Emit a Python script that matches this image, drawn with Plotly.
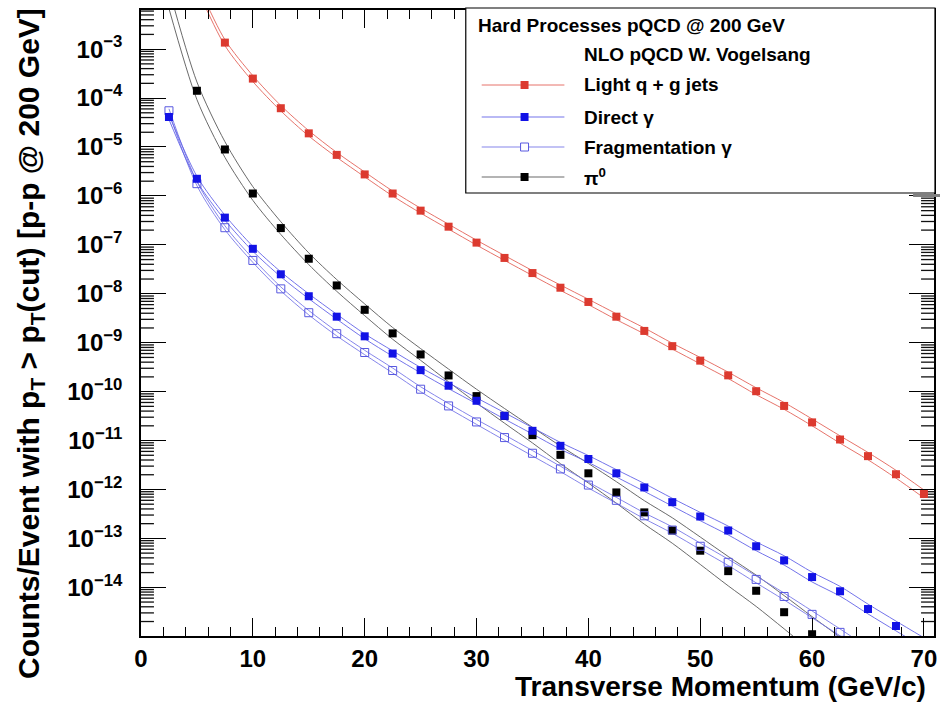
import math
import plotly.graph_objects as go

# ---------------- data ----------------
pt_jets = [5, 7.5, 10, 12.5, 15, 17.5, 20, 22.5, 25, 27.5, 30, 32.5, 35, 37.5, 40,
           42.5, 45, 47.5, 50, 52.5, 55, 57.5, 60, 62.5, 65, 67.5, 70]
jets = [2.0e-2, 1.36e-3, 2.5e-4, 6.2e-5, 1.9e-5, 6.9e-6, 2.75e-6, 1.12e-6, 5.0e-7,
        2.35e-7, 1.11e-7, 5.4e-8, 2.65e-8, 1.33e-8, 6.8e-9, 3.4e-9, 1.74e-9, 8.5e-10,
        4.3e-10, 2.15e-10, 1.02e-10, 5.1e-11, 2.35e-11, 1.05e-11, 4.8e-12, 2.05e-12, 8.1e-13]
jets_band = [0.06, 0.06, 0.06, 0.055, 0.055, 0.05, 0.05, 0.05, 0.05, 0.05, 0.05, 0.05,
             0.05, 0.055, 0.055, 0.06, 0.06, 0.06, 0.065, 0.065, 0.07, 0.07, 0.07,
             0.075, 0.075, 0.08, 0.08]

pt_direct = [2.5, 5, 7.5, 10, 12.5, 15, 17.5, 20, 22.5, 25, 27.5, 30, 32.5, 35, 37.5,
             40, 42.5, 45, 47.5, 50, 52.5, 55, 57.5, 60, 62.5, 65, 67.5, 70]
direct = [4.1e-5, 2.24e-6, 3.6e-7, 8.3e-8, 2.5e-8, 8.9e-9, 3.4e-9, 1.35e-9, 6.0e-10,
          2.75e-10, 1.32e-10, 6.5e-11, 3.2e-11, 1.58e-11, 7.8e-12, 4.2e-12, 2.14e-12,
          1.1e-12, 5.5e-13, 2.8e-13, 1.45e-13, 6.9e-14, 3.55e-14, 1.62e-14, 8.3e-15,
          3.6e-15, 1.62e-15, 7.4e-16]
direct_band = [0.05, 0.05, 0.05, 0.05, 0.05, 0.05, 0.05, 0.05, 0.055, 0.055, 0.06, 0.06,
               0.065, 0.065, 0.07, 0.07, 0.075, 0.08, 0.08, 0.085, 0.09, 0.09, 0.095,
               0.1, 0.1, 0.1, 0.1, 0.1]

pt_frag = [2.5, 5, 7.5, 10, 12.5, 15, 17.5, 20, 22.5, 25, 27.5, 30, 32.5, 35, 37.5,
           40, 42.5, 45, 47.5, 50, 52.5, 55, 57.5, 60, 62.5, 65]
frag = [5.5e-5, 1.78e-6, 2.24e-7, 4.8e-8, 1.26e-8, 4.1e-9, 1.53e-9, 6.3e-10, 2.7e-10,
        1.12e-10, 5.1e-11, 2.4e-11, 1.15e-11, 5.5e-12, 2.63e-12, 1.23e-12, 6.0e-13,
        2.9e-13, 1.48e-13, 6.9e-14, 3.24e-14, 1.45e-14, 6.5e-15, 2.8e-15, 1.2e-15, 5.0e-16]
frag_band = [0.04, 0.04, 0.04, 0.04, 0.04, 0.045, 0.045, 0.045, 0.05, 0.05, 0.05, 0.05,
             0.055, 0.055, 0.055, 0.06, 0.06, 0.06, 0.065, 0.065, 0.065, 0.07, 0.07,
             0.07, 0.07, 0.07]

pt_pi0 = [2.5, 5, 7.5, 10, 12.5, 15, 17.5, 20, 22.5, 25, 27.5, 30, 32.5, 35, 37.5,
          40, 42.5, 45, 47.5, 50, 52.5, 55, 57.5, 60, 62.5]
pi0 = [1.07e-2, 1.41e-4, 8.9e-6, 1.12e-6, 2.2e-7, 5.2e-8, 1.48e-8, 4.7e-9, 1.55e-9,
       5.75e-10, 2.14e-10, 8.1e-11, 3.2e-11, 1.29e-11, 5.1e-12, 2.14e-12, 8.7e-13,
       3.4e-13, 1.45e-13, 5.6e-14, 2.14e-14, 8.5e-15, 3.1e-15, 1.1e-15, 4.0e-16]
pi0_band = [0.2, 0.18, 0.16, 0.14, 0.13, 0.12, 0.12, 0.12, 0.12, 0.12, 0.13, 0.14, 0.15,
            0.16, 0.18, 0.2, 0.22, 0.24, 0.26, 0.28, 0.3, 0.32, 0.34, 0.36, 0.38]

y_tick_vals = [1e-3, 1e-4, 1e-5, 1e-6, 1e-7, 1e-8, 1e-9, 1e-10, 1e-11, 1e-12, 1e-13, 1e-14]
y_tick_text = ["10<sup>−3</sup>", "10<sup>−4</sup>", "10<sup>−5</sup>", "10<sup>−6</sup>",
               "10<sup>−7</sup>", "10<sup>−8</sup>", "10<sup>−9</sup>", "10<sup>−10</sup>",
               "10<sup>−11</sup>", "10<sup>−12</sup>", "10<sup>−13</sup>", "10<sup>−14</sup>"]

legend_title = "Hard Processes pQCD @ 200 GeV"
legend_sub = "NLO pQCD W. Vogelsang"
names = ["Light q + g jets", "Direct γ", "Fragmentation γ", "π<sup>0</sup>"]

x_title = "Transverse Momentum (GeV/c)"
y_title = "Counts/Event with p<sub>T</sub> > p<sub>T</sub>(cut) [p-p @ 200 GeV]"

# ---------------- styling ----------------
FONT = "Liberation Sans"
W, H = 943, 702
L, R, T, B = 141, 937, 10, 636          # plot area in pixels
X_RANGE = [0, 70.9]
Y_RANGE = [-14.995, -2.2]


def px(x):
    return (x - L) / (R - L)


def py(y):
    return (B - y) / (B - T)


jets_s = (pt_jets, jets, jets_band, "#dc3a2f", "rgba(226,90,80,0.85)", "square")
direct_s = (pt_direct, direct, direct_band, "#1212e6", "rgba(100,100,232,0.9)", "square")
frag_s = (pt_frag, frag, frag_band, "#5858e0", "rgba(120,120,232,0.9)", "square-open")
pi0_s = (pt_pi0, pi0, pi0_band, "#000000", "rgba(90,90,90,0.9)", "square")
legend_series = [jets_s, direct_s, frag_s, pi0_s]
draw_order = [jets_s, pi0_s, frag_s, direct_s]

fig = go.Figure()

# log minor ticks (2..9 within each decade) on the left and right frame
tick_dx = 13 * (X_RANGE[1] - X_RANGE[0]) / (R - L)
mx, my = [], []
for d in range(-15, -2):
    for m in range(2, 10):
        ly = d + math.log10(m)
        if Y_RANGE[0] < ly < Y_RANGE[1]:
            v = 10 ** ly
            mx += [X_RANGE[0], X_RANGE[0] + tick_dx, None,
                   X_RANGE[1] - tick_dx, X_RANGE[1], None]
            my += [v, v, None, v, v, None]
fig.add_trace(go.Scatter(x=mx, y=my, mode="lines", showlegend=False, hoverinfo="skip",
                         connectgaps=False, line=dict(color="#111111", width=1.3)))

for x, y, band, mcol, lcol, sym in draw_order:
    up = [v * 10 ** b for v, b in zip(y, band)]
    lo = [v / 10 ** b for v, b in zip(y, band)]
    for edge in (up, lo):
        fig.add_trace(go.Scatter(x=x, y=edge, mode="lines", showlegend=False,
                                 line=dict(color=lcol, width=1, shape="spline", smoothing=0.8),
                                 hoverinfo="skip"))
for x, y, band, mcol, lcol, sym in draw_order:
    fig.add_trace(go.Scatter(x=x, y=y, mode="markers", showlegend=False,
                             marker=dict(symbol=sym, size=8, color=mcol,
                                         line=dict(color=mcol, width=1 if sym.endswith("open") else 0))))

tfont = dict(family=FONT, size=24, color="black", weight="bold")

fig.update_layout(
    xaxis=dict(range=X_RANGE, tickmode="linear", tick0=0, dtick=10, ticklen=18,
               tickwidth=1.2, ticks="inside", tickcolor="black", showline=True,
               linecolor="black", linewidth=1.5, mirror="allticks", showgrid=False,
               zeroline=False, tickfont=tfont,
               minor=dict(ticks="inside", dtick=2, ticklen=9, tickcolor="black", tickwidth=1)),
    yaxis=dict(type="log", range=Y_RANGE, tickmode="array", tickvals=y_tick_vals,
               ticktext=y_tick_text, ticklen=25, tickwidth=1.2, ticks="inside",
               tickcolor="black", showline=True, linecolor="black", linewidth=1.5,
               mirror="allticks", showgrid=False, zeroline=False, tickfont=tfont,
               ticklabelstandoff=12),
)

shapes = []
annotations = []

lfont = dict(family=FONT, size=19, color="black", weight="bold")
# legend box + shadow
shapes.append(dict(type="rect", xref="paper", yref="paper", x0=px(467), x1=px(938),
                   y0=py(193), y1=py(8), line=dict(color="black", width=1.2),
                   fillcolor="white", layer="above"))
shapes.append(dict(type="rect", xref="paper", yref="paper", x0=px(916), x1=px(943),
                   y0=py(197), y1=py(194), line=dict(width=0), fillcolor="#808080",
                   layer="above"))
annotations.append(dict(text=legend_title, xref="paper", yref="paper", x=px(477), y=py(25),
                        xanchor="left", yanchor="middle", showarrow=False, font=lfont))
annotations.append(dict(text=legend_sub, xref="paper", yref="paper", x=px(584), y=py(55),
                        xanchor="left", yanchor="middle", showarrow=False, font=lfont))
rows = [85, 117, 147, 177]
for (x, y, band, mcol, lcol, sym), name, ry in zip(legend_series, names, rows):
    shapes.append(dict(type="line", xref="paper", yref="paper", x0=px(483), x1=px(566),
                       y0=py(ry), y1=py(ry), line=dict(color=lcol, width=1), layer="above"))
    if sym.endswith("open"):
        shapes.append(dict(type="rect", xref="paper", yref="paper", x0=px(522), x1=px(530),
                           y0=py(ry + 4), y1=py(ry - 4), line=dict(color=mcol, width=1),
                           fillcolor="white", layer="above"))
    else:
        shapes.append(dict(type="rect", xref="paper", yref="paper", x0=px(522), x1=px(530),
                           y0=py(ry + 4), y1=py(ry - 4), line=dict(width=0),
                           fillcolor=mcol, layer="above"))
    annotations.append(dict(text=name, xref="paper", yref="paper", x=px(584), y=py(ry),
                            xanchor="left", yanchor="middle", showarrow=False, font=lfont))

# axis titles
annotations.append(dict(text=x_title, xref="paper", yref="paper",
                        x=px(931), y=py(686), xanchor="right", yanchor="middle",
                        showarrow=False,
                        font=dict(family=FONT, size=28, color="black", weight="bold")))
annotations.append(dict(text=y_title, xref="paper", yref="paper", x=px(30), y=py(6),
                        textangle=-90, xanchor="center", yanchor="top", showarrow=False,
                        font=dict(family=FONT, size=30, color="black", weight="bold")))

fig.update_layout(width=W, height=H, margin=dict(l=L, r=W - R, t=T, b=H - B),
                  plot_bgcolor="white", paper_bgcolor="white", showlegend=False,
                  shapes=shapes, annotations=annotations)

fig.write_html("out.html")
